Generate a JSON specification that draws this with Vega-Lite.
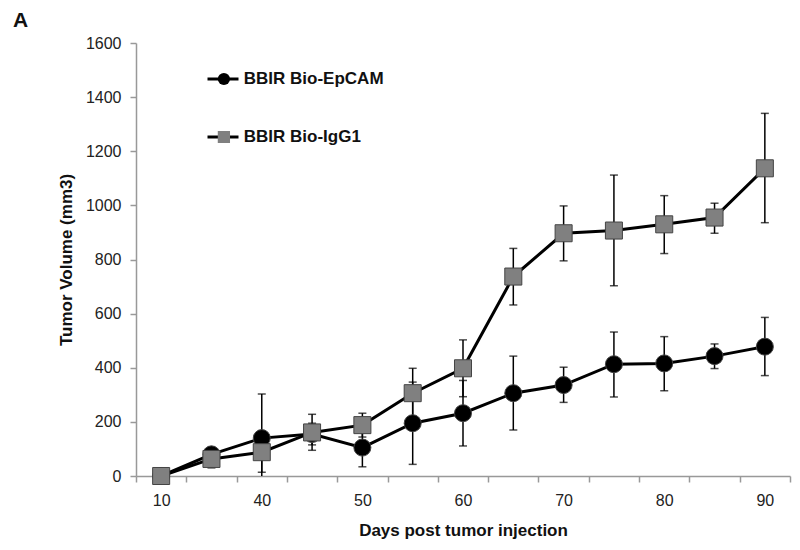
{
  "$schema": "https://vega.github.io/schema/vega-lite/v6.json",
  "width": 654,
  "height": 433,
  "autosize": {"type": "none"},
  "padding": {"left": 136, "top": 43, "right": 10, "bottom": 74},
  "background": "white",
  "title": {"text": "A", "anchor": "start", "frame": "group", "fontSize": 21, "fontWeight": "bold", "font": "Liberation Sans", "color": "#111", "dx": -123, "offset": 4},
  "config": {
    "view": {"stroke": null},
    "font": "Liberation Sans",
    "axis": {"grid": false, "labelFont": "Liberation Sans", "titleFont": "Liberation Sans", "labelColor": "#222", "titleColor": "#111", "domainColor": "#999", "tickColor": "#999", "domainWidth": 1.5, "tickWidth": 1.5}
  },
  "data": {"values": [
    {"series": "BBIR Bio-EpCAM", "day": 10, "mean": 0, "lo": -5, "hi": 5},
    {"series": "BBIR Bio-EpCAM", "day": 35, "mean": 80, "lo": 60, "hi": 100},
    {"series": "BBIR Bio-EpCAM", "day": 40, "mean": 140, "lo": -23, "hi": 303},
    {"series": "BBIR Bio-EpCAM", "day": 45, "mean": 155, "lo": 115, "hi": 195},
    {"series": "BBIR Bio-EpCAM", "day": 50, "mean": 105, "lo": 34, "hi": 176},
    {"series": "BBIR Bio-EpCAM", "day": 55, "mean": 195, "lo": 43, "hi": 347},
    {"series": "BBIR Bio-EpCAM", "day": 60, "mean": 232, "lo": 111, "hi": 353},
    {"series": "BBIR Bio-EpCAM", "day": 65, "mean": 306, "lo": 170, "hi": 443},
    {"series": "BBIR Bio-EpCAM", "day": 70, "mean": 336, "lo": 272, "hi": 402},
    {"series": "BBIR Bio-EpCAM", "day": 75, "mean": 413, "lo": 292, "hi": 532},
    {"series": "BBIR Bio-EpCAM", "day": 80, "mean": 416, "lo": 315, "hi": 515},
    {"series": "BBIR Bio-EpCAM", "day": 85, "mean": 443, "lo": 397, "hi": 488},
    {"series": "BBIR Bio-EpCAM", "day": 90, "mean": 478, "lo": 371, "hi": 586},
    {"series": "BBIR Bio-IgG1", "day": 10, "mean": 0, "lo": -5, "hi": 5},
    {"series": "BBIR Bio-IgG1", "day": 35, "mean": 63, "lo": 30, "hi": 96},
    {"series": "BBIR Bio-IgG1", "day": 40, "mean": 88, "lo": 14, "hi": 162},
    {"series": "BBIR Bio-IgG1", "day": 45, "mean": 161, "lo": 95, "hi": 228},
    {"series": "BBIR Bio-IgG1", "day": 50, "mean": 188, "lo": 144, "hi": 232},
    {"series": "BBIR Bio-IgG1", "day": 55, "mean": 306, "lo": 214, "hi": 398},
    {"series": "BBIR Bio-IgG1", "day": 60, "mean": 398, "lo": 293, "hi": 503},
    {"series": "BBIR Bio-IgG1", "day": 65, "mean": 737, "lo": 632, "hi": 841},
    {"series": "BBIR Bio-IgG1", "day": 70, "mean": 897, "lo": 795, "hi": 998},
    {"series": "BBIR Bio-IgG1", "day": 75, "mean": 907, "lo": 703, "hi": 1112},
    {"series": "BBIR Bio-IgG1", "day": 80, "mean": 930, "lo": 822, "hi": 1036},
    {"series": "BBIR Bio-IgG1", "day": 85, "mean": 955, "lo": 897, "hi": 1008},
    {"series": "BBIR Bio-IgG1", "day": 90, "mean": 1137, "lo": 936, "hi": 1340}
  ]},
  "encoding": {
    "x": {
      "field": "day", "type": "ordinal",
      "scale": {"type": "band", "paddingInner": 0, "paddingOuter": 0},
      "axis": {
        "title": "Days post tumor injection", "labelAngle": 0,
        "labelExpr": "indexof(['10','40','50','60','70','80','90'], datum.label) >= 0 ? datum.label : ''",
        "tickBand": "extent", "tickSize": 6, "labelPadding": 10, "labelFontSize": 16,
        "titleFontSize": 17, "titleFontWeight": "bold", "titlePadding": 14
      }
    }
  },
  "layer": [
    {
      "mark": {"type": "rule", "color": "black", "strokeWidth": 1.5, "clip": true},
      "encoding": {
        "detail": {"field": "series"},
        "y": {"field": "lo", "type": "quantitative"},
        "y2": {"field": "hi"}
      }
    },
    {
      "mark": {"type": "tick", "color": "black", "size": 8, "thickness": 1.5, "clip": true},
      "encoding": {"y": {"field": "lo", "type": "quantitative"}}
    },
    {
      "mark": {"type": "tick", "color": "black", "size": 8, "thickness": 1.5, "clip": true},
      "encoding": {"y": {"field": "hi", "type": "quantitative"}}
    },
    {
      "transform": [{"calculate": "datum.series", "as": "line_series"}],
      "mark": {"type": "line", "strokeWidth": 3},
      "encoding": {
        "y": {"field": "mean", "type": "quantitative"},
        "stroke": {
          "field": "line_series", "type": "nominal",
          "scale": {"range": ["black", "black"]},
          "legend": {
            "title": null, "orient": "none", "legendX": 70, "legendY": 26,
            "symbolType": "stroke", "symbolSize": 961, "symbolStrokeWidth": 3,
            "clipHeight": 20, "rowPadding": 38, "padding": 0,
            "labelExpr": "''", "labelFontSize": 17, "zindex": 1
          }
        }
      }
    },
    {
      "mark": {"type": "point", "filled": true, "size": 290, "opacity": 1, "stroke": "#444", "strokeWidth": 1},
      "encoding": {
        "y": {
          "field": "mean", "type": "quantitative",
          "scale": {"domain": [0, 1600], "nice": false},
          "axis": {
            "title": "Tumor Volume (mm3)", "values": [0, 200, 400, 600, 800, 1000, 1200, 1400, 1600],
            "format": "d", "tickSize": 6, "labelPadding": 9, "labelFontSize": 16,
            "titleFontSize": 17, "titleFontWeight": "bold", "titlePadding": 10
          }
        },
        "fill": {
          "field": "series", "type": "nominal",
          "scale": {"domain": ["BBIR Bio-EpCAM", "BBIR Bio-IgG1"], "range": ["black", "#808080"]},
          "legend": {
            "title": null, "orient": "none", "legendX": 79.4, "legendY": 26,
            "symbolSize": 150, "symbolStrokeWidth": 0,
            "clipHeight": 20, "rowPadding": 38, "padding": 0,
            "labelOffset": 11.4, "labelFontSize": 17, "labelFontWeight": "bold",
            "labelColor": "#111", "labelFont": "Liberation Sans", "zindex": 2
          }
        },
        "shape": {
          "field": "series", "type": "nominal",
          "scale": {"domain": ["BBIR Bio-EpCAM", "BBIR Bio-IgG1"], "range": ["circle", "square"]}
        }
      }
    }
  ]
}
